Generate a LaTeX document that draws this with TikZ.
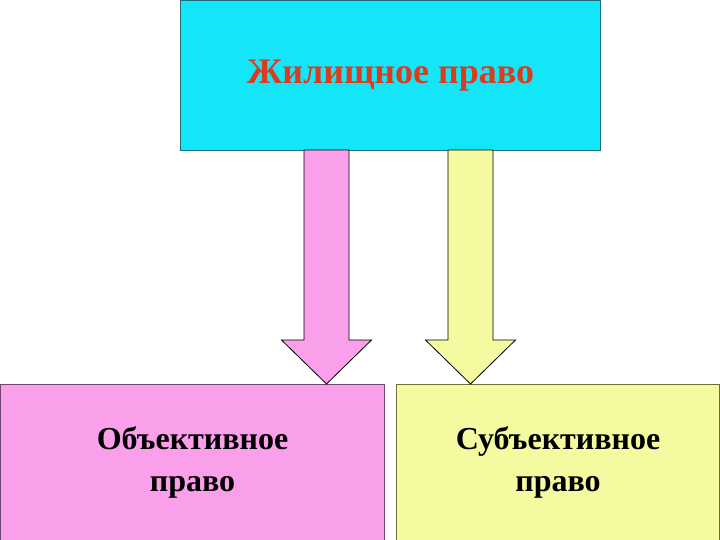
\documentclass[tikz,border=0pt]{standalone}
\usepackage{fontspec}
\setmainfont{Liberation Serif}
\usetikzlibrary{calc}
\definecolor{cyanbox}{RGB}{20,230,250}
\definecolor{pinkbox}{RGB}{250,160,235}
\definecolor{yellowbox}{RGB}{245,250,160}
\definecolor{redtext}{RGB}{220,60,30}
\definecolor{tealline}{RGB}{30,110,120}
\definecolor{pinkline}{RGB}{110,70,110}
\definecolor{oliveline}{RGB}{110,110,60}
\tikzset{
  box/.style={draw, line width=1pt, inner sep=0pt, align=center, font=\bfseries},
  bigarrow/.style={draw=black, line width=0.8pt, line join=miter},
}
\begin{document}
\begin{tikzpicture}[x=1pt,y=-1pt]
\useasboundingbox (0,0) rectangle (720,540);
\node[box, draw=tealline, fill=cyanbox, minimum width=420pt, minimum height=150pt, anchor=north west,
  text=redtext, font=\bfseries\fontsize{36}{42}\selectfont] (top) at (180,0) {Жилищное право};
\node[box, draw=pinkline, fill=pinkbox, minimum width=384pt, minimum height=156pt, anchor=north west,
  font=\bfseries\fontsize{32}{42}\selectfont] (obj) at (0,384) {Объективное\\право};
\node[box, draw=oliveline, fill=yellowbox, minimum width=323pt, minimum height=156pt, anchor=north west,
  font=\bfseries\fontsize{32}{42}\selectfont] (subj) at (396,384) {Субъективное\\право};
% arrows
\coordinate (a1) at (326.5,150);
\coordinate (a2) at (470.5,150);
\draw[bigarrow, fill=pinkbox]
  ($(a1)+(-22.5,0)$) -- ($(a1)+(22.5,0)$) -- ($(a1)+(22.5,190)$) -- ($(a1)+(45,190)$)
  -- (obj.north -| a1) -- ($(a1)+(-45,190)$) -- ($(a1)+(-22.5,190)$) -- cycle;
\draw[bigarrow, fill=yellowbox]
  ($(a2)+(-22.5,0)$) -- ($(a2)+(22.5,0)$) -- ($(a2)+(22.5,190)$) -- ($(a2)+(45,190)$)
  -- (subj.north -| a2) -- ($(a2)+(-45,190)$) -- ($(a2)+(-22.5,190)$) -- cycle;
\end{tikzpicture}
\end{document}
